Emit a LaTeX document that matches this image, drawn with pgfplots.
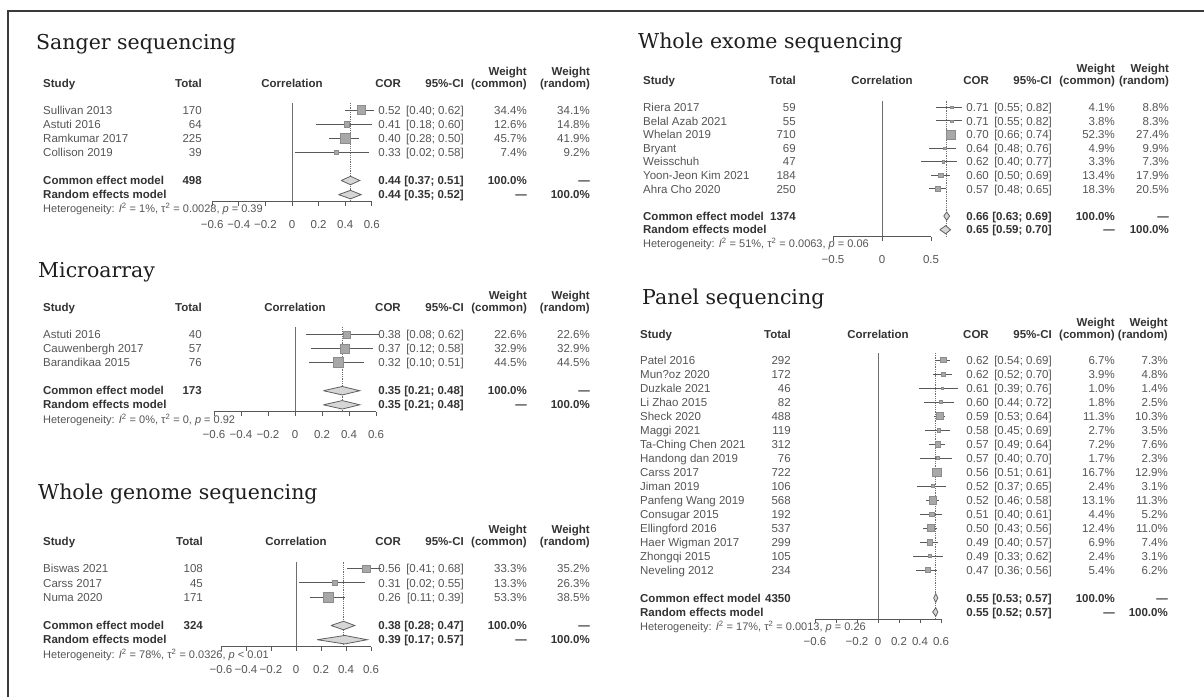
\documentclass[border=0pt]{standalone}
\usepackage{pgfplots}
\pgfplotsset{compat=1.18}
\usepackage{pgfplotstable}
\usepackage{fontspec}
\setmainfont{Liberation Sans}
\newfontfamily\titlefont{DejaVu Serif}

\definecolor{txt}{HTML}{555555}
\definecolor{btxt}{HTML}{333333}
\definecolor{lin}{HTML}{595959}
\definecolor{zl}{HTML}{6E6E6E}
\definecolor{sqfill}{HTML}{A8A8A8}
\definecolor{sqdraw}{HTML}{8C8C8C}
\definecolor{diafill}{HTML}{D6D6D6}
\definecolor{diadraw}{HTML}{606060}
\definecolor{framecol}{HTML}{3A3A3A}
\definecolor{ttl}{HTML}{1E1E1E}

\newcommand\tf{\fontsize{11.5}{13}\selectfont}
\newcommand\hf{\fontsize{11}{12}\selectfont}
\newlength\ciw

\tikzset{
  T/.style={inner sep=0pt, font=\tf, text=txt, yshift=-4.1pt},
  B/.style={inner sep=0pt, font=\tf\bfseries, text=btxt, yshift=-4.1pt},
  ttlnode/.style={inner sep=0pt, anchor=base west, text=ttl, font=\titlefont\fontsize{20.5}{24}\selectfont},
}

\pgfplotsset{
  fp/.style={scale only axis, clip=false, anchor=south west,
    axis x line*=bottom, axis y line=none, x axis line style={draw=none},
    xtick align=outside, major tick length=4pt,
    xtick style={draw=lin, line width=0.8pt},
    xticklabel style={font=\tf, text=txt, yshift=-11pt},
    ytick=\empty},
  txtcol/.style={draw=none, mark=none, nodes near coords, point meta=explicit symbolic,
    every node near coord/.append style={anchor=#1, inner sep=0pt, font=\tf, text=txt, yshift=-4.1pt}},
  sq/.style 2 args={scatter, only marks, mark=square*,
    scatter/use mapped color={draw=sqdraw, fill=sqfill},
    visualization depends on={#1*sqrt(\thisrow{wc}/#2) \as \msz},
    scatter/@pre marker code/.append style={/tikz/mark size=\msz, /tikz/line width=0.5pt}},
  cibar/.style={draw=none, mark=none, error bars/.cd, x dir=both, x explicit, error mark=none,
    error bar style={draw=lin, line width=0.9pt, solid}},
  dia/.style={fill=diafill, draw=diadraw, line width=0.8pt, mark=none},
  zline/.style={draw=zl, line width=0.9pt, mark=none},
  cline/.style={draw=zl, line width=0.8pt, densely dotted, mark=none},
}

\newcommand\fpstudies[3]{%
  \addplot[sq={#2}{#3}] table[x=cor, y=y]{#1};
  \addplot[cibar] table[x=cor, y=y, x error plus expr=\thisrow{hi}-\thisrow{cor}, x error minus expr=\thisrow{cor}-\thisrow{lo}]{#1};
  \addplot[txtcol=base west] table[x expr=\xS, y=y, meta=study]{#1};
  \addplot[txtcol=base east] table[x expr=\xT, y=y, meta=total]{#1};
  \addplot[txtcol=base east] table[x expr=\xC, y=y, meta=cor]{#1};
  \addplot[txtcol=base east, nodes near coords={{[}\pgfplotspointmeta;}, every node near coord/.append style={xshift=-\ciw}] table[x expr=\xI, y=y, meta=lo]{#1};
  \addplot[txtcol=base east, nodes near coords={\pgfplotspointmeta{]}}] table[x expr=\xI, y=y, meta=hi]{#1};
  \addplot[txtcol=base east, nodes near coords={\pgfplotspointmeta\%}] table[x expr=\xW, y=y, meta=wc]{#1};
  \addplot[txtcol=base east, nodes near coords={\pgfplotspointmeta\%}] table[x expr=\xR, y=y, meta=wr]{#1};
}
\newcommand\fphead[1]{%
  \node[B, anchor=base west] at (axis cs:\xS,#1) {Study};
  \node[B, anchor=base east] at (axis cs:\xT,#1) {Total};
  \node[B, anchor=base] at (axis cs:0,#1) {Correlation};
  \node[B, anchor=base east] at (axis cs:\xC,#1) {COR};
  \node[B, anchor=base east] at (axis cs:\xI,#1) {95\%-CI};
  \node[B, anchor=base east] at (axis cs:\xW,#1) {(common)};
  \node[B, anchor=base east, yshift=12pt] at (axis cs:\xW,#1) {Weight};
  \node[B, anchor=base east] at (axis cs:\xR,#1) {(random)};
  \node[B, anchor=base east, yshift=12pt] at (axis cs:\xR,#1) {Weight};
}
\newcommand\fpmodel[7]{%
  \node[B, anchor=base west] at (axis cs:\xS,#1) {#2};
  \node[B, anchor=base east] at (axis cs:\xT,#1) {#3};
  \node[B, anchor=base east] at (axis cs:\xC,#1) {#4};
  \node[B, anchor=base east] at (axis cs:\xI,#1) {#5};
  \node[B, anchor=base east] at (axis cs:\xW,#1) {#6};
  \node[B, anchor=base east] at (axis cs:\xR,#1) {#7};
}
\newcommand\fphet[5]{%
  \node[T, font=\hf, anchor=base west] at (axis cs:\xS,#1) {Heterogeneity: \textit{I}\textsuperscript{2} = #2, τ\textsuperscript{2} = #3, \textit{p} #4 #5};
}

\pgfplotstableread[col sep=comma]{
y,study,total,cor,lo,hi,wc,wr
-1,Sullivan 2013,170,0.52,0.40,0.62,34.4,34.1
-2,Astuti 2016,64,0.41,0.18,0.60,12.6,14.8
-3,Ramkumar 2017,225,0.40,0.28,0.50,45.7,41.9
-4,Collison 2019,39,0.33,0.02,0.58,7.4,9.2
}\tabA

\pgfplotstableread[col sep=comma]{
y,study,total,cor,lo,hi,wc,wr
-1,Astuti 2016,40,0.38,0.08,0.62,22.6,22.6
-2,Cauwenbergh 2017,57,0.37,0.12,0.58,32.9,32.9
-3,Barandikaa 2015,76,0.32,0.10,0.51,44.5,44.5
}\tabB

\pgfplotstableread[col sep=comma]{
y,study,total,cor,lo,hi,wc,wr
-1,Biswas 2021,108,0.56,0.41,0.68,33.3,35.2
-2,Carss 2017,45,0.31,0.02,0.55,13.3,26.3
-3,Numa 2020,171,0.26,0.11,0.39,53.3,38.5
}\tabC

\pgfplotstableread[col sep=comma]{
y,study,total,cor,lo,hi,wc,wr
-1,Riera 2017,59,0.71,0.55,0.82,4.1,8.8
-2,Belal Azab 2021,55,0.71,0.55,0.82,3.8,8.3
-3,Whelan 2019,710,0.70,0.66,0.74,52.3,27.4
-4,Bryant,69,0.64,0.48,0.76,4.9,9.9
-5,Weisschuh,47,0.62,0.40,0.77,3.3,7.3
-6,Yoon-Jeon Kim 2021,184,0.60,0.50,0.69,13.4,17.9
-7,Ahra Cho 2020,250,0.57,0.48,0.65,18.3,20.5
}\tabD

\pgfplotstableread[col sep=comma]{
y,study,total,cor,lo,hi,wc,wr
-1,Patel 2016,292,0.62,0.54,0.69,6.7,7.3
-2,Mun?oz 2020,172,0.62,0.52,0.70,3.9,4.8
-3,Duzkale 2021,46,0.61,0.39,0.76,1.0,1.4
-4,Li Zhao 2015,82,0.60,0.44,0.72,1.8,2.5
-5,Sheck 2020,488,0.59,0.53,0.64,11.3,10.3
-6,Maggi 2021,119,0.58,0.45,0.69,2.7,3.5
-7,Ta-Ching Chen 2021,312,0.57,0.49,0.64,7.2,7.6
-8,Handong dan 2019,76,0.57,0.40,0.70,1.7,2.3
-9,Carss 2017,722,0.56,0.51,0.61,16.7,12.9
-10,Jiman 2019,106,0.52,0.37,0.65,2.4,3.1
-11,Panfeng Wang 2019,568,0.52,0.46,0.58,13.1,11.3
-12,Consugar 2015,192,0.51,0.40,0.61,4.4,5.2
-13,Ellingford 2016,537,0.50,0.43,0.56,12.4,11.0
-14,Haer Wigman 2017,299,0.49,0.40,0.57,6.9,7.4
-15,Zhongqi 2015,105,0.49,0.33,0.62,2.4,3.1
-16,Neveling 2012,234,0.47,0.36,0.56,5.4,6.2
}\tabE

\begin{document}
\settowidth{\ciw}{\tf\ 0.00]}%
\begin{tikzpicture}
\useasboundingbox (0pt,0pt) rectangle (1204pt,-697pt);
\draw[framecol, line width=2.5pt] (8pt,-697pt) -- (8pt,-11pt) -- (1204pt,-11pt);

% ---------------- Sanger sequencing
\def\xS{-1.872}\def\xT{-0.677}\def\xC{0.820}\def\xI{1.293}\def\xW{1.767}\def\xR{2.241}
\begin{axis}[fp, at={(212.2pt,-201.65pt)}, width=186.2pt, height=98.7pt,
  xmin=-0.6, xmax=0.8, ymin=-7.5, ymax=-0.5,
  xtick={-0.6,-0.4,-0.2,0,0.2,0.4,0.6}, xticklabels={−0.6,−0.4,−0.2,0,0.2,0.4,0.6}]
  \addplot[zline] coordinates {(0,-0.5) (0,-7.5)};
  \addplot[cline] coordinates {(0.44,-0.5) (0.44,-7.5)};
  \fpstudies{\tabA}{5}{45.7}
  \addplot[dia] coordinates {(0.37,-6) (0.44,-5.7) (0.51,-6) (0.44,-6.3) (0.37,-6)};
  \addplot[dia] coordinates {(0.35,-7) (0.44,-6.7) (0.52,-7) (0.44,-7.3) (0.35,-7)};
  \draw[lin, line width=0.8pt] (axis cs:-0.6,-7.5) -- (axis cs:0.6,-7.5);
  \fphead{0.92}
  \fpmodel{-6}{Common effect model}{498}{0.44}{[0.37; 0.51]}{100.0\%}{\textemdash}
  \fpmodel{-7}{Random effects model}{}{0.44}{[0.35; 0.52]}{\textemdash}{100.0\%}
  \fphet{-8}{1\%}{0.0028}{=}{0.39}
\end{axis}

% ---------------- Microarray
\def\xS{-1.867}\def\xT{-0.689}\def\xC{0.785}\def\xI{1.252}\def\xW{1.719}\def\xR{2.185}
\begin{axis}[fp, at={(214pt,-411.85pt)}, width=189pt, height=84.6pt,
  xmin=-0.6, xmax=0.8, ymin=-6.5, ymax=-0.5,
  xtick={-0.6,-0.4,-0.2,0,0.2,0.4,0.6}, xticklabels={−0.6,−0.4,−0.2,0,0.2,0.4,0.6}]
  \addplot[zline] coordinates {(0,-0.5) (0,-6.5)};
  \addplot[cline] coordinates {(0.35,-0.5) (0.35,-6.5)};
  \fpstudies{\tabB}{5}{44.5}
  \addplot[dia] coordinates {(0.21,-5) (0.35,-4.7) (0.48,-5) (0.35,-5.3) (0.21,-5)};
  \addplot[dia] coordinates {(0.21,-6) (0.35,-5.7) (0.48,-6) (0.35,-6.3) (0.21,-6)};
  \draw[lin, line width=0.8pt] (axis cs:-0.6,-6.5) -- (axis cs:0.6,-6.5);
  \fphead{0.92}
  \fpmodel{-5}{Common effect model}{173}{0.35}{[0.21; 0.48]}{100.0\%}{\textemdash}
  \fpmodel{-6}{Random effects model}{}{0.35}{[0.21; 0.48]}{\textemdash}{100.0\%}
  \fphet{-7}{0\%}{0}{=}{0.92}
\end{axis}

% ---------------- Whole genome sequencing
\def\xS{-2.024}\def\xT{-0.744}\def\xC{0.840}\def\xI{1.344}\def\xW{1.848}\def\xR{2.352}
\begin{axis}[fp, at={(221pt,-646.8pt)}, width=175pt, height=85.2pt,
  xmin=-0.6, xmax=0.8, ymin=-6.5, ymax=-0.5,
  xtick={-0.6,-0.4,-0.2,0,0.2,0.4,0.6}, xticklabels={−0.6,−0.4,−0.2,0,0.2,0.4,0.6}]
  \addplot[zline] coordinates {(0,-0.5) (0,-6.5)};
  \addplot[cline] coordinates {(0.38,-0.5) (0.38,-6.5)};
  \fpstudies{\tabC}{5}{53.3}
  \addplot[dia] coordinates {(0.28,-5) (0.38,-4.7) (0.47,-5) (0.38,-5.3) (0.28,-5)};
  \addplot[dia] coordinates {(0.17,-6) (0.39,-5.7) (0.57,-6) (0.39,-6.3) (0.17,-6)};
  \draw[lin, line width=0.8pt] (axis cs:-0.6,-6.5) -- (axis cs:0.6,-6.5);
  \fphead{0.92}
  \fpmodel{-5}{Common effect model}{324}{0.38}{[0.28; 0.47]}{100.0\%}{\textemdash}
  \fpmodel{-6}{Random effects model}{}{0.39}{[0.17; 0.57]}{\textemdash}{100.0\%}
  \fphet{-7}{78\%}{0.0326}{<}{0.01}
\end{axis}

% ---------------- Whole exome sequencing
\def\xS{-2.439}\def\xT{-0.878}\def\xC{1.092}\def\xI{1.735}\def\xW{2.378}\def\xR{2.929}
\begin{axis}[fp, at={(833pt,-236.5pt)}, width=137.2pt, height=136pt,
  xmin=-0.5, xmax=0.9, ymin=-10.5, ymax=-0.5,
  xtick={-0.5,0,0.5}, xticklabels={−0.5,0,0.5}]
  \addplot[zline] coordinates {(0,-0.5) (0,-10.5)};
  \addplot[cline] coordinates {(0.66,-0.5) (0.66,-10.5)};
  \fpstudies{\tabD}{4.2}{52.3}
  \addplot[dia] coordinates {(0.63,-9) (0.66,-8.7) (0.69,-9) (0.66,-9.3) (0.63,-9)};
  \addplot[dia] coordinates {(0.59,-10) (0.65,-9.7) (0.70,-10) (0.65,-10.3) (0.59,-10)};
  \draw[lin, line width=0.8pt] (axis cs:-0.5,-10.5) -- (axis cs:0.5,-10.5);
  \fphead{1.0}
  \fpmodel{-9}{Common effect model}{1374}{0.66}{[0.63; 0.69]}{100.0\%}{\textemdash}
  \fpmodel{-10}{Random effects model}{}{0.65}{[0.59; 0.70]}{\textemdash}{100.0\%}
  \fphet{-11}{51\%}{0.0063}{=}{0.06}
\end{axis}

% ---------------- Panel sequencing
\def\xS{-2.267}\def\xT{-0.829}\def\xC{1.057}\def\xI{1.657}\def\xW{2.257}\def\xR{2.762}
\begin{axis}[fp, at={(815pt,-619pt)}, width=157.5pt, height=266pt,
  xmin=-0.6, xmax=0.9, ymin=-19.5, ymax=-0.5,
  xtick={-0.6,-0.4,-0.2,0,0.2,0.4,0.6}, xticklabels={−0.6,,−0.2,0,0.2,0.4,0.6}]
  \addplot[zline] coordinates {(0,-0.5) (0,-19.5)};
  \addplot[cline] coordinates {(0.55,-0.5) (0.55,-19.5)};
  \fpstudies{\tabE}{4.2}{16.7}
  \addplot[dia] coordinates {(0.53,-18) (0.55,-17.7) (0.57,-18) (0.55,-18.3) (0.53,-18)};
  \addplot[dia] coordinates {(0.52,-19) (0.55,-18.7) (0.57,-19) (0.55,-19.3) (0.52,-19)};
  \draw[lin, line width=0.8pt] (axis cs:-0.6,-19.5) -- (axis cs:0.6,-19.5);
  \fphead{0.85}
  \fpmodel{-18}{Common effect model}{4350}{0.55}{[0.53; 0.57]}{100.0\%}{\textemdash}
  \fpmodel{-19}{Random effects model}{}{0.55}{[0.52; 0.57]}{\textemdash}{100.0\%}
  \fphet{-20}{17\%}{0.0013}{=}{0.26}
\end{axis}

\node[ttlnode] at (36pt,-49pt) {Sanger sequencing};
\node[ttlnode] at (38pt,-277pt) {Microarray};
\node[ttlnode] at (38pt,-499pt) {Whole genome sequencing};
\node[ttlnode] at (638pt,-48pt) {Whole exome sequencing};
\node[ttlnode] at (642pt,-304pt) {Panel sequencing};
\end{tikzpicture}
\end{document}
